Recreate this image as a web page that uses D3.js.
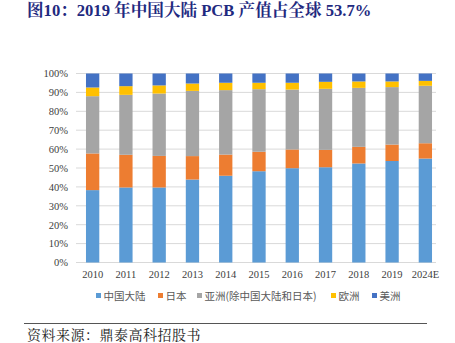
<!DOCTYPE html>
<html><head><meta charset="utf-8">
<script src="https://cdn.jsdelivr.net/npm/d3@7"></script>
<style>body{margin:0;background:#fff}svg{display:block}</style>
</head><body>
<svg id="c" width="455" height="343"></svg>
<script>
const years = ["2010","2011","2012","2013","2014","2015","2016","2017","2018","2019","2024E"];
const china = [38.3,39.7,39.7,43.9,45.9,48.3,49.9,50.4,52.4,53.7,55.0];
const japan = [19.4,17.3,16.7,12.4,11.2,10.3,9.9,9.2,8.8,8.7,8.1];
const asia = [30.3,31.7,33.0,34.5,34.1,33.1,31.7,32.3,31.2,30.4,30.4];
const europe = [4.6,4.6,4.3,3.9,3.9,3.4,3.6,3.7,3.4,3.0,2.6];
const americas = [7.4,6.7,6.3,5.3,4.9,4.9,4.9,4.4,4.2,4.2,3.9];
const seriesNames = ["中国大陆","日本","亚洲(除中国大陆和日本)","欧洲","美洲"];
const colors = ["#5B9BD5","#ED7D31","#A5A5A5","#FFC000","#4472C4"];
const yTicks = [0,10,20,30,40,50,60,70,80,90,100];

const svg = d3.select("#c");
const rows = years.map((y,i)=>({year:y, s0:china[i], s1:japan[i], s2:asia[i], s3:europe[i], s4:americas[i]}));
const keys = ["s0","s1","s2","s3","s4"];
const stack = d3.stack().keys(keys)(rows);

const x = d3.scaleBand().domain(years).range([76,442]).paddingInner(0.6).paddingOuter(0.3);
const y = d3.scaleLinear().domain([0,100]).range([262.5,73.5]);

// title
svg.append("text").attr("x",27).attr("y",16)
  .attr("font-family","'Liberation Serif','Noto Serif CJK SC','Noto Sans CJK SC',serif")
  .attr("font-weight","bold").attr("font-size",16.6).attr("fill","#1F2A80")
  .text("图10：2019 年中国大陆 PCB 产值占全球 53.7%");

// grid
svg.append("g").selectAll("line").data(yTicks).join("line")
  .attr("x1",76).attr("x2",436).attr("y1",d=>y(d)).attr("y2",d=>y(d))
  .attr("stroke","#D9D9D9").attr("stroke-width",1);

// bars
svg.append("g").selectAll("g").data(stack).join("g")
  .attr("fill",(d,i)=>colors[i])
  .selectAll("rect").data(d=>d).join("rect")
  .attr("x",d=>x(d.data.year)).attr("width",x.bandwidth())
  .attr("y",d=>y(d[1])).attr("height",d=>y(d[0])-y(d[1]));

// y axis
const ya = svg.append("g").attr("transform","translate(76,0)")
  .call(d3.axisLeft(y).tickValues(yTicks).tickFormat(d=>d+"%").tickSize(0).tickPadding(8));
ya.select(".domain").remove();
ya.selectAll("text").attr("font-family","'Liberation Serif',serif").attr("font-size",10.5).attr("fill","#404040");

// x axis
const xa = svg.append("g").attr("transform","translate(0,262.5)")
  .call(d3.axisBottom(x).tickSize(0).tickPadding(8));
xa.select(".domain").remove();
xa.selectAll("text").attr("font-family","'Liberation Serif',serif").attr("font-size",10.5).attr("fill","#404040");

// legend
const legX = [96,158,197,331,372];
const lg = svg.append("g");
seriesNames.forEach((n,i)=>{
  lg.append("rect").attr("x",legX[i]).attr("y",293).attr("width",5).attr("height",5).attr("fill",colors[i]);
  lg.append("text").attr("x",legX[i]+7.5).attr("y",300).attr("font-family","'Noto Sans CJK SC',sans-serif")
    .attr("font-size",10.5).attr("fill","#595959").text(n);
});

// footer
svg.append("line").attr("x1",24).attr("x2",427).attr("y1",323.5).attr("y2",323.5).attr("stroke","#555").attr("stroke-width",1.2);
svg.append("text").attr("x",27).attr("y",340).attr("font-family","'Noto Serif CJK SC','Noto Sans CJK SC',serif")
  .attr("font-size",14).attr("letter-spacing",0.5).attr("fill","#222").text("资料来源：鼎泰高科招股书");
</script>
</body></html>
